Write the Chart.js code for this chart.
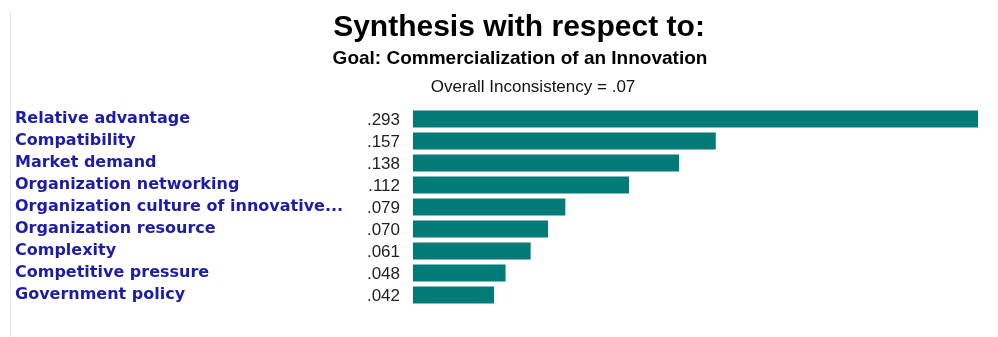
<!DOCTYPE html>
<html>
<head>
<meta charset="utf-8">
<script src="https://cdn.jsdelivr.net/npm/chart.js@4"></script>
<style>
    html, body { margin: 0; padding: 0; background: #fff; }
    #wrap { width: 998px; height: 337px; }
</style>
</head>
<body>
<div id="wrap"><canvas id="synthesisChart"></canvas></div>
<script>
const criteria = [
    "Relative advantage",
    "Compatibility",
    "Market demand",
    "Organization networking",
    "Organization culture of innovative...",
    "Organization resource",
    "Complexity",
    "Competitive pressure",
    "Government policy",
];
const weights = [0.293, 0.157, 0.138, 0.112, 0.079, 0.07, 0.061, 0.048, 0.042];
const titleText = "Synthesis with respect to:";
const goalText = "Goal: Commercialization of an Innovation";
const inconsistencyText = "Overall Inconsistency = .07";

// ".293" style, no leading zero
const fmt = (v) => v.toFixed(3).replace(/^0/, "");

// header lines + value column, drawn straight on the canvas
const synthesisText = {
    id: "synthesisText",
    afterDatasetsDraw(chart) {
        const ctx = chart.ctx;
        const y = chart.scales.y;
        const left = chart.chartArea.left;
        ctx.save();

        // faint frame edge on the left
        ctx.strokeStyle = "#e4e4e4";
        ctx.lineWidth = 1;
        ctx.beginPath();
        ctx.moveTo(10.5, 12);
        ctx.lineTo(10.5, 337);
        ctx.stroke();

        ctx.textAlign = "center";
        ctx.textBaseline = "alphabetic";
        ctx.fillStyle = "#000";
        ctx.font = "bold 30px 'Liberation Sans', Arial, sans-serif";
        ctx.fillText(titleText, 519, 36);
        ctx.font = "bold 19px 'Liberation Sans', Arial, sans-serif";
        ctx.fillText(goalText, 520, 64);
        ctx.fillStyle = "#111";
        ctx.font = "17px 'Liberation Sans', Arial, sans-serif";
        ctx.fillText(inconsistencyText, 533, 92);

        ctx.font = "17px 'Liberation Sans', Arial, sans-serif";
        ctx.fillStyle = "#222";
        ctx.textAlign = "right";
        ctx.textBaseline = "middle";
        weights.forEach((w, i) => {
            ctx.fillText(fmt(w), left - 13, y.getPixelForValue(i) + 1);
        });
        ctx.restore();
    },
};

new Chart(document.getElementById("synthesisChart"), {
    type: "bar",
    data: {
        labels: criteria,
        datasets: [
            {
                data: weights,
                backgroundColor: "#007b78",
                borderWidth: 0,
                barPercentage: 0.78,
                categoryPercentage: 1,
            },
        ],
    },
    options: {
        indexAxis: "y",
        responsive: true,
        maintainAspectRatio: false,
        animation: false,
        layout: {
            padding: { left: 15, right: 20, top: 108, bottom: 31 },
        },
        scales: {
            x: {
                display: false,
                min: 0,
                max: 0.293,
            },
            y: {
                grid: { display: false },
                border: { display: false },
                afterFit: (scale) => {
                    scale.width = 398;
                },
                ticks: {
                    autoSkip: false,
                    crossAlign: "far",
                    color: "#1c1ca8",
                    padding: 0,
                    font: { family: "'DejaVu Sans', Verdana, sans-serif", weight: "bold", size: 16 },
                },
            },
        },
        plugins: {
            legend: { display: false },
            tooltip: { enabled: false },
            title: { display: false },
        },
    },
    plugins: [synthesisText],
});
</script>
</body>
</html>
